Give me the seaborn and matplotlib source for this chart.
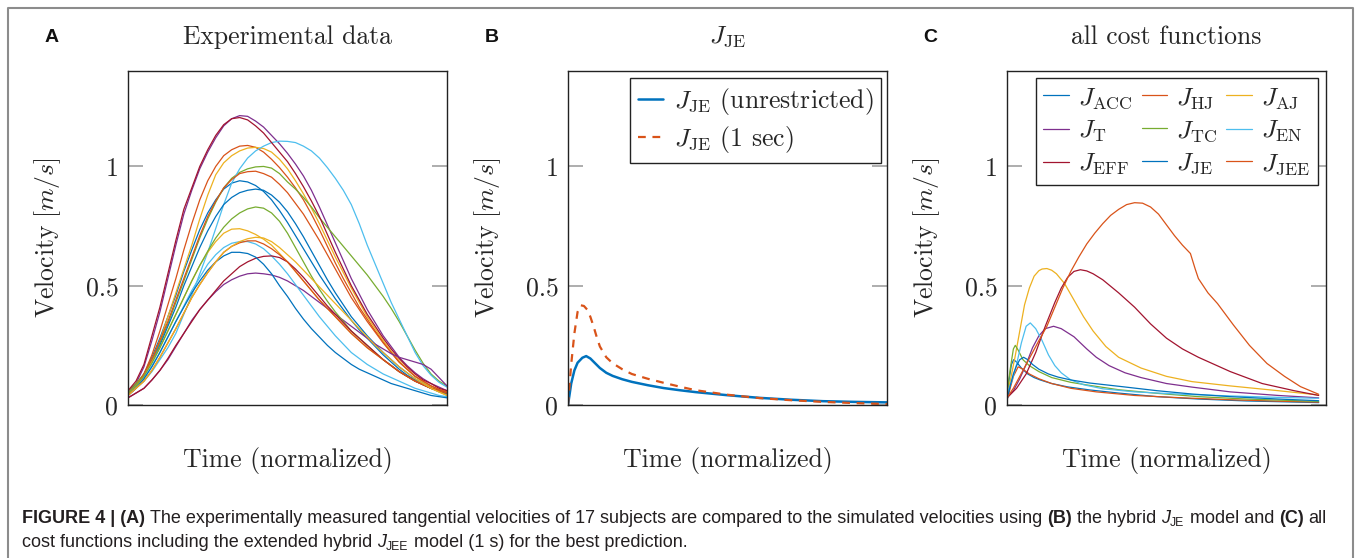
import numpy as np
import pandas as pd
import matplotlib
matplotlib.use("Agg")
import matplotlib.pyplot as plt
from matplotlib.lines import Line2D
import seaborn as sns

# ---------------- data ----------------
MB, MO, MY, MP, MG, ML, MR = "#0072BD", "#D95319", "#EDB120", "#7E2F8E", "#77AC30", "#4DBEEE", "#A2142F"

T_A = [0.0, 0.025, 0.05, 0.075, 0.10, 0.125, 0.15, 0.175, 0.20, 0.225, 0.25, 0.275, 0.30, 0.325,
       0.35, 0.375, 0.40, 0.425, 0.45, 0.475, 0.50, 0.525, 0.55, 0.575, 0.60, 0.625, 0.65, 0.675,
       0.70, 0.725, 0.75, 0.775, 0.80, 0.825, 0.85, 0.875, 0.90, 0.925, 0.95, 0.975, 1.0]

S01 = [0.05, 0.08, 0.13, 0.20, 0.28, 0.37, 0.46, 0.56, 0.65, 0.735, 0.805, 0.86, 0.905, 0.93, 0.94, 0.935, 0.92, 0.895, 0.86, 0.815, 0.765,
       0.71, 0.655, 0.60, 0.545, 0.495, 0.445, 0.40, 0.355, 0.315, 0.28, 0.245, 0.21, 0.18, 0.15, 0.125, 0.105, 0.085, 0.07, 0.06, 0.05]
S02 = [0.05, 0.08, 0.13, 0.21, 0.31, 0.42, 0.53, 0.65, 0.76, 0.86, 0.94, 1.00, 1.045, 1.07, 1.085, 1.088, 1.08, 1.06, 1.03, 0.995, 0.955,
       0.91, 0.86, 0.80, 0.735, 0.665, 0.595, 0.53, 0.47, 0.41, 0.36, 0.31, 0.265, 0.22, 0.18, 0.15, 0.12, 0.10, 0.08, 0.065, 0.055]
S03 = [0.05, 0.08, 0.12, 0.19, 0.27, 0.37, 0.47, 0.57, 0.67, 0.78, 0.88, 0.965, 1.015, 1.045, 1.065, 1.077, 1.08, 1.075, 1.06, 1.03, 0.99,
       0.94, 0.885, 0.825, 0.76, 0.69, 0.62, 0.555, 0.49, 0.43, 0.37, 0.32, 0.27, 0.225, 0.185, 0.15, 0.12, 0.095, 0.075, 0.06, 0.05]
S04 = [0.05, 0.09, 0.16, 0.27, 0.39, 0.53, 0.67, 0.80, 0.90, 0.99, 1.06, 1.12, 1.17, 1.20, 1.213, 1.21, 1.19, 1.165, 1.13, 1.095, 1.055,
       1.01, 0.96, 0.90, 0.83, 0.755, 0.68, 0.605, 0.53, 0.465, 0.40, 0.345, 0.29, 0.245, 0.20, 0.165, 0.135, 0.11, 0.09, 0.075, 0.06]
S05 = [0.06, 0.09, 0.13, 0.19, 0.26, 0.34, 0.43, 0.52, 0.61, 0.70, 0.78, 0.85, 0.91, 0.95, 0.975, 0.99, 0.998, 1.0, 0.993, 0.97, 0.935,
       0.905, 0.87, 0.83, 0.785, 0.745, 0.705, 0.665, 0.625, 0.585, 0.545, 0.50, 0.455, 0.405, 0.35, 0.29, 0.23, 0.175, 0.13, 0.10, 0.08]
S06 = [0.05, 0.07, 0.10, 0.14, 0.19, 0.24, 0.30, 0.38, 0.46, 0.55, 0.64, 0.74, 0.84, 0.93, 0.99, 1.035, 1.065, 1.085, 1.10, 1.106, 1.105,
       1.10, 1.085, 1.065, 1.035, 0.995, 0.95, 0.90, 0.84, 0.76, 0.67, 0.59, 0.51, 0.43, 0.36, 0.29, 0.22, 0.165, 0.125, 0.095, 0.075]
S07 = [0.06, 0.10, 0.17, 0.29, 0.41, 0.55, 0.69, 0.82, 0.91, 1.00, 1.07, 1.13, 1.175, 1.20, 1.205, 1.195, 1.17, 1.14, 1.10, 1.06, 1.02,
       0.97, 0.915, 0.855, 0.79, 0.715, 0.64, 0.57, 0.50, 0.44, 0.38, 0.33, 0.28, 0.235, 0.195, 0.16, 0.13, 0.105, 0.09, 0.07, 0.06]
S08 = [0.05, 0.08, 0.12, 0.18, 0.25, 0.33, 0.41, 0.50, 0.58, 0.66, 0.73, 0.79, 0.84, 0.87, 0.89, 0.90, 0.905, 0.90, 0.88, 0.85, 0.81,
       0.76, 0.705, 0.645, 0.585, 0.525, 0.47, 0.42, 0.37, 0.33, 0.29, 0.255, 0.22, 0.19, 0.16, 0.135, 0.11, 0.09, 0.07, 0.055, 0.045]
S09 = [0.05, 0.08, 0.13, 0.19, 0.27, 0.35, 0.44, 0.53, 0.62, 0.71, 0.79, 0.855, 0.91, 0.945, 0.97, 0.978, 0.98, 0.97, 0.955, 0.925, 0.89,
       0.845, 0.80, 0.745, 0.69, 0.63, 0.57, 0.51, 0.45, 0.40, 0.35, 0.305, 0.26, 0.22, 0.18, 0.15, 0.12, 0.10, 0.08, 0.065, 0.055]
S10 = [0.05, 0.08, 0.12, 0.18, 0.24, 0.31, 0.38, 0.45, 0.52, 0.585, 0.64, 0.685, 0.72, 0.737, 0.739, 0.73, 0.715, 0.695, 0.67, 0.635, 0.60,
       0.56, 0.52, 0.48, 0.44, 0.405, 0.37, 0.335, 0.30, 0.27, 0.24, 0.215, 0.19, 0.165, 0.14, 0.12, 0.10, 0.085, 0.07, 0.055, 0.04]
S11 = [0.03, 0.05, 0.07, 0.105, 0.145, 0.19, 0.245, 0.30, 0.355, 0.40, 0.44, 0.475, 0.505, 0.525, 0.54, 0.55, 0.553, 0.55, 0.545, 0.535, 0.52,
       0.50, 0.48, 0.455, 0.43, 0.405, 0.38, 0.355, 0.33, 0.305, 0.28, 0.255, 0.235, 0.215, 0.20, 0.19, 0.18, 0.17, 0.15, 0.115, 0.08]
S12 = [0.05, 0.08, 0.12, 0.175, 0.24, 0.31, 0.38, 0.45, 0.52, 0.585, 0.645, 0.70, 0.745, 0.78, 0.805, 0.822, 0.83, 0.825, 0.805, 0.77, 0.72,
       0.66, 0.60, 0.54, 0.485, 0.435, 0.39, 0.35, 0.31, 0.28, 0.25, 0.22, 0.19, 0.165, 0.14, 0.12, 0.10, 0.085, 0.07, 0.06, 0.05]
S13 = [0.04, 0.07, 0.11, 0.165, 0.22, 0.285, 0.35, 0.415, 0.48, 0.535, 0.59, 0.63, 0.66, 0.678, 0.685, 0.685, 0.675, 0.655, 0.625, 0.59, 0.55,
       0.505, 0.46, 0.415, 0.37, 0.33, 0.29, 0.255, 0.22, 0.195, 0.17, 0.15, 0.13, 0.115, 0.10, 0.085, 0.07, 0.06, 0.05, 0.04, 0.035]
S14 = [0.03, 0.05, 0.07, 0.105, 0.145, 0.195, 0.25, 0.30, 0.35, 0.40, 0.44, 0.48, 0.52, 0.55, 0.58, 0.60, 0.615, 0.623, 0.625, 0.618, 0.60,
       0.57, 0.535, 0.495, 0.455, 0.415, 0.38, 0.345, 0.31, 0.28, 0.25, 0.22, 0.19, 0.165, 0.14, 0.12, 0.10, 0.085, 0.07, 0.06, 0.05]
S15 = [0.04, 0.07, 0.11, 0.16, 0.22, 0.285, 0.35, 0.41, 0.47, 0.52, 0.565, 0.60, 0.625, 0.64, 0.64, 0.635, 0.62, 0.59, 0.55, 0.50, 0.455,
       0.405, 0.36, 0.32, 0.285, 0.25, 0.22, 0.195, 0.17, 0.15, 0.135, 0.12, 0.105, 0.09, 0.08, 0.07, 0.06, 0.05, 0.04, 0.035, 0.03]
S16 = [0.04, 0.07, 0.10, 0.145, 0.20, 0.26, 0.32, 0.385, 0.45, 0.505, 0.555, 0.60, 0.64, 0.665, 0.68, 0.688, 0.688, 0.675, 0.655, 0.63, 0.60,
       0.56, 0.52, 0.48, 0.44, 0.405, 0.37, 0.335, 0.30, 0.27, 0.24, 0.215, 0.19, 0.165, 0.14, 0.12, 0.10, 0.085, 0.07, 0.06, 0.05]
S17 = [0.04, 0.07, 0.10, 0.145, 0.20, 0.26, 0.32, 0.385, 0.45, 0.505, 0.555, 0.60, 0.64, 0.665, 0.685, 0.697, 0.703, 0.70, 0.685, 0.66, 0.63,
       0.60, 0.565, 0.53, 0.495, 0.46, 0.425, 0.39, 0.355, 0.32, 0.285, 0.25, 0.22, 0.19, 0.16, 0.135, 0.11, 0.09, 0.07, 0.055, 0.04]
SUBJECTS = [S01, S02, S03, S04, S05, S06, S07, S08, S09, S10, S11, S12, S13, S14, S15, S16, S17]
SUBJECT_COLORS = [MB, MO, MY, MP, MG, ML, MR, MB, MO, MY, MP, MG, ML, MR, MB, MO, MY]

# panel B
T_JE_U = [0, 0.01, 0.02, 0.03, 0.045, 0.057, 0.07, 0.085, 0.10, 0.12, 0.14, 0.17, 0.20, 0.25, 0.30, 0.35, 0.40, 0.50, 0.60, 0.70, 0.80, 0.90, 1.0]
V_JE_U = [0, 0.09, 0.145, 0.177, 0.198, 0.205, 0.195, 0.175, 0.155, 0.135, 0.122, 0.108, 0.097, 0.083, 0.071, 0.062, 0.054, 0.041, 0.030, 0.022, 0.016, 0.013, 0.011]
T_JE_1 = [0, 0.01, 0.02, 0.03, 0.04, 0.05, 0.06, 0.07, 0.08, 0.09, 0.10, 0.12, 0.14, 0.17, 0.20, 0.25, 0.30, 0.35, 0.40, 0.50, 0.60, 0.70, 0.80, 0.90, 1.0]
V_JE_1 = [0, 0.17, 0.30, 0.39, 0.418, 0.415, 0.40, 0.37, 0.33, 0.285, 0.245, 0.20, 0.175, 0.15, 0.13, 0.11, 0.093, 0.077, 0.062, 0.043, 0.029, 0.020, 0.013, 0.008, 0.004]

# panel C
C_NAMES = ["ACC", "HJ", "AJ", "T", "TC", "EN", "EFF", "JE", "JEE"]
C_COLORS = [MB, MO, MY, MP, MG, ML, MR, MB, MO]
T_ACC = [0, 0.007, 0.014, 0.021, 0.03, 0.045, 0.065, 0.085, 0.104, 0.14, 0.19, 0.26, 0.35, 0.47, 0.60, 0.75, 0.977]
V_ACC = [0.03, 0.11, 0.17, 0.19, 0.18, 0.155, 0.13, 0.115, 0.105, 0.09, 0.076, 0.063, 0.05, 0.035, 0.025, 0.017, 0.01]
T_HJ = [0, 0.01, 0.02, 0.035, 0.05, 0.07, 0.10, 0.14, 0.20, 0.28, 0.40, 0.55, 0.70, 0.85, 0.977]
V_HJ = [0.02, 0.07, 0.12, 0.16, 0.15, 0.13, 0.11, 0.09, 0.07, 0.055, 0.04, 0.03, 0.022, 0.016, 0.012]
T_AJ = [0, 0.01, 0.025, 0.04, 0.055, 0.07, 0.085, 0.10, 0.11, 0.125, 0.14, 0.155, 0.18, 0.21, 0.24, 0.27, 0.31, 0.35, 0.42, 0.50, 0.58, 0.70, 0.85, 0.977]
V_AJ = [0.05, 0.10, 0.20, 0.31, 0.42, 0.49, 0.54, 0.563, 0.57, 0.572, 0.565, 0.55, 0.51, 0.44, 0.37, 0.31, 0.245, 0.20, 0.155, 0.12, 0.098, 0.08, 0.06, 0.042]
T_T = [0, 0.02, 0.04, 0.06, 0.08, 0.10, 0.12, 0.146, 0.17, 0.21, 0.25, 0.28, 0.32, 0.37, 0.42, 0.50, 0.58, 0.70, 0.85, 0.977]
V_T = [0.03, 0.06, 0.11, 0.17, 0.24, 0.29, 0.32, 0.33, 0.32, 0.286, 0.235, 0.20, 0.165, 0.135, 0.115, 0.09, 0.075, 0.055, 0.04, 0.03]
T_TC = [0, 0.01, 0.02, 0.026, 0.035, 0.05, 0.07, 0.10, 0.14, 0.20, 0.26, 0.35, 0.47, 0.60, 0.75, 0.977]
V_TC = [0.05, 0.15, 0.235, 0.25, 0.23, 0.19, 0.165, 0.14, 0.115, 0.095, 0.082, 0.064, 0.049, 0.035, 0.025, 0.015]
T_EN = [0, 0.015, 0.03, 0.045, 0.06, 0.073, 0.09, 0.11, 0.13, 0.15, 0.17, 0.20, 0.24, 0.30, 0.40, 0.55, 0.70, 0.85, 0.977]
V_EN = [0.05, 0.10, 0.17, 0.26, 0.33, 0.344, 0.32, 0.27, 0.21, 0.165, 0.135, 0.105, 0.085, 0.068, 0.055, 0.045, 0.038, 0.032, 0.028]
T_EFF = [0, 0.03, 0.06, 0.09, 0.12, 0.15, 0.17, 0.19, 0.21, 0.23, 0.25, 0.27, 0.30, 0.35, 0.40, 0.45, 0.50, 0.55, 0.60, 0.70, 0.80, 0.90, 0.977]
V_EFF = [0.03, 0.07, 0.13, 0.22, 0.33, 0.43, 0.49, 0.535, 0.56, 0.567, 0.562, 0.55, 0.525, 0.47, 0.41, 0.34, 0.28, 0.235, 0.20, 0.14, 0.09, 0.06, 0.04]
T_JE = [0, 0.01, 0.02, 0.03, 0.04, 0.052, 0.065, 0.08, 0.10, 0.13, 0.16, 0.20, 0.26, 0.36, 0.47, 0.58, 0.70, 0.85, 0.977]
V_JE = [0.02, 0.08, 0.13, 0.165, 0.19, 0.2, 0.19, 0.17, 0.15, 0.13, 0.117, 0.105, 0.092, 0.077, 0.06, 0.046, 0.035, 0.025, 0.018]
T_JEE = [0, 0.02, 0.04, 0.06, 0.08, 0.10, 0.125, 0.15, 0.175, 0.20, 0.225, 0.25, 0.275, 0.30, 0.325, 0.35, 0.375, 0.40, 0.425,
         0.45, 0.475, 0.50, 0.525, 0.55, 0.575, 0.59, 0.60, 0.63, 0.66, 0.71, 0.76, 0.815, 0.87, 0.92, 0.977]
V_JEE = [0.03, 0.07, 0.12, 0.17, 0.22, 0.27, 0.33, 0.41, 0.49, 0.56, 0.62, 0.675, 0.72, 0.76, 0.795, 0.82, 0.84, 0.848, 0.846,
         0.83, 0.80, 0.755, 0.71, 0.67, 0.635, 0.57, 0.53, 0.47, 0.425, 0.335, 0.25, 0.174, 0.12, 0.077, 0.045]
C_T = [T_ACC, T_HJ, T_AJ, T_T, T_TC, T_EN, T_EFF, T_JE, T_JEE]
C_V = [V_ACC, V_HJ, V_AJ, V_T, V_TC, V_EN, V_EFF, V_JE, V_JEE]

Y_TICKS = [0, 0.5, 1.0]
Y_TICK_LABELS = ["0", "0.5", "1"]
TITLES = ["Experimental data", r"$J_{\mathrm{JE}}$", "all cost functions"]
LETTERS = ["A", "B", "C"]

# ---------------- style ----------------
sns.set_style("white")
plt.rcParams["font.family"] = ["cmr10", "DejaVu Serif"]
plt.rcParams["mathtext.fontset"] = "cm"
plt.rcParams["axes.unicode_minus"] = False
plt.rcParams["axes.formatter.use_mathtext"] = True

W, H = 1357, 558
fig = plt.figure(figsize=(W / 100, H / 100), dpi=100)
fig.patch.set_facecolor("white")

AX_TOP, AX_W, AX_H = 71, 319, 334
lefts = [128, 568, 1007]
axes = [fig.add_axes([l / W, 1 - (AX_TOP + AX_H) / H, AX_W / W, AX_H / H]) for l in lefts]
letter_x = [52, 492, 930]

FS = 18.5
LFS = 18.5

# ---- panel A
rows = []
for i, vals in enumerate(SUBJECTS):
    for t, v in zip(T_A, vals):
        rows.append({"t": t, "v": v, "subject": f"S{i+1:02d}"})
df_a = pd.DataFrame(rows)
pal_a = {f"S{i+1:02d}": c for i, c in enumerate(SUBJECT_COLORS)}
sns.lineplot(data=df_a, x="t", y="v", hue="subject", palette=pal_a, legend=False,
             ax=axes[0], linewidth=0.9, estimator=None, sort=False)

# ---- panel B
axB = axes[1]
sns.lineplot(x=T_JE_U, y=V_JE_U, ax=axB, color=MB, linewidth=1.8, estimator=None, sort=False,
             label=r"$J_{\mathrm{JE}}$ (unrestricted)")
sns.lineplot(x=T_JE_1, y=V_JE_1, ax=axB, color=MO, linewidth=1.6, estimator=None, sort=False,
             linestyle=(0, (3.5, 3)), label=r"$J_{\mathrm{JE}}$ (1 sec)")
legB = axB.legend(loc="upper right", bbox_to_anchor=(0.981, 0.979), borderaxespad=0,
                  fontsize=LFS, frameon=True, fancybox=False, framealpha=1,
                  handlelength=1.0, handletextpad=0.4, labelspacing=0.3, borderpad=0.3)
legB.get_frame().set_edgecolor("#222222")
legB.get_frame().set_linewidth(1.0)

# ---- panel C
axC = axes[2]
rows = []
for name, ts, vs in zip(C_NAMES, C_T, C_V):
    for t, v in zip(ts, vs):
        rows.append({"t": t, "v": v, "cf": name})
df_c = pd.DataFrame(rows)
pal_c = dict(zip(C_NAMES, C_COLORS))
sns.lineplot(data=df_c, x="t", y="v", hue="cf", palette=pal_c, legend=False, ax=axC,
             linewidth=0.9, estimator=None, sort=False)
handles = {n: Line2D([], [], color=c, lw=0.9) for n, c in zip(C_NAMES, C_COLORS)}
col_order = ["ACC", "T", "EFF", "HJ", "TC", "JE", "AJ", "EN", "JEE"]
legC = axC.legend([handles[n] for n in col_order],
                  [r"$J_{\mathrm{%s}}$" % n for n in col_order],
                  ncol=3, loc="upper right", bbox_to_anchor=(0.975, 0.979), borderaxespad=0,
                  fontsize=LFS, frameon=True, fancybox=False, framealpha=1,
                  handlelength=1.0, handletextpad=0.35, labelspacing=0.3, columnspacing=0.35,
                  borderpad=0.3)
legC.get_frame().set_edgecolor("#222222")
legC.get_frame().set_linewidth(1.0)

# ---- axes styling (after seaborn, so its automatic labels are cleared)
for ax, title, letter, lx in zip(axes, TITLES, LETTERS, letter_x):
    ax.set_facecolor("white")
    ax.set_xlabel("")
    ax.set_ylabel("")
    ax.set_xlim(0, 1)
    ax.set_ylim(0, 1.4)
    ax.set_xticks([])
    ax.set_yticks(Y_TICKS)
    ax.set_yticklabels(Y_TICK_LABELS)
    ax.tick_params(axis="y", direction="in", length=11, width=1.2, color="#a0a0a0",
                   left=True, right=True, labelsize=FS, pad=7)
    for s in ax.spines.values():
        s.set_color("#222222")
        s.set_linewidth(1.0)
    ax.text(0.5, 1 + (AX_TOP - 37) / AX_H, title, transform=ax.transAxes,
            ha="center", va="center", fontsize=FS)
    ax.text(-80 / AX_W, 0.5, r"$\mathrm{Velocity}\ [m/s]$", transform=ax.transAxes, rotation=90,
            ha="center", va="center", fontsize=FS)
    ax.text(0.5, -(460 - 405) / AX_H, "Time (normalized)", transform=ax.transAxes,
            ha="center", va="center", fontsize=FS)
    fig.text(lx / W, 1 - 37 / H, letter, family="Liberation Sans", fontweight="bold",
             fontsize=14, ha="center", va="center", color="#111111")

# ---- outer border
fig.add_artist(Line2D([8 / W, 8 / W, 1353 / W, 1353 / W], [0, 1 - 8 / H, 1 - 8 / H, 0],
                      transform=fig.transFigure, color="#8c8c8c", lw=1.5))

# ---- caption (rich text)
renderer = fig.canvas.get_renderer()
CAP_FS = 13.0
CAP_FAM = "Liberation Sans"
CAP_COL = "#231f20"

def measure(s, **kw):
    t = fig.text(0, 0, s, **kw)
    w = t.get_window_extent(renderer).width
    t.remove()
    return w

def rich_line(x, y, segments):
    for txt, kw, dy in segments:
        base = dict(family=CAP_FAM, fontsize=CAP_FS, color=CAP_COL)
        base.update(kw)
        sw = measure("x x", **base) - measure("xx", **base)
        lead = len(txt) - len(txt.lstrip(" "))
        trail = len(txt) - len(txt.rstrip(" "))
        core = txt.strip(" ")
        x += lead * sw
        if core:
            fig.text(x / W, 1 - (y + dy) / H, core, va="baseline", ha="left", **base)
            x += measure(core, **base)
        x += trail * sw

B = dict(fontweight="bold")
N = dict()
I = dict(style="italic")
SUB = dict(fontsize=CAP_FS * 0.68)
line1 = [("FIGURE 4 | (A)", B, 0),
         (" The experimentally measured tangential velocities of 17 subjects are compared to the simulated velocities using ", N, 0),
         ("(B)", B, 0), (" the hybrid ", N, 0), ("J", I, 0), ("JE", SUB, 3),
         (" model and ", N, 0), ("(C)", B, 0), (" all", N, 0)]
line2 = [("cost functions including the extended hybrid ", N, 0), ("J", I, 0), ("JEE", SUB, 3),
         (" model (1 s) for the best prediction.", N, 0)]
rich_line(22, 523, line1)
rich_line(22, 547, line2)

fig.savefig("out.png", dpi=100, facecolor="white")
